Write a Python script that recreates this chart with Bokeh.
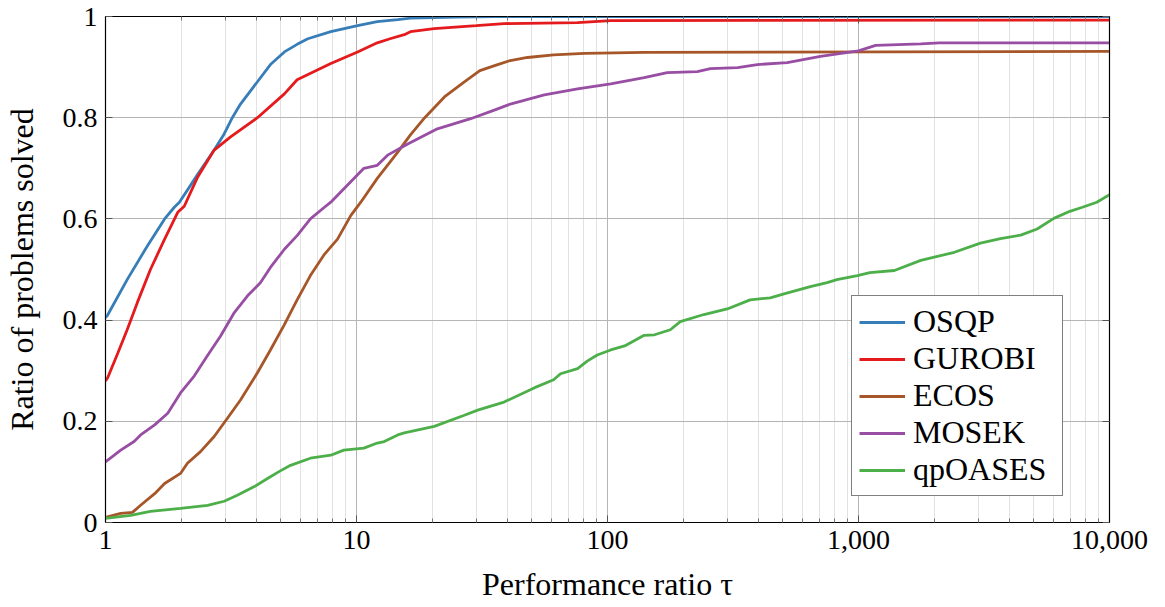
from bokeh.plotting import figure
from bokeh.models import Range1d, FixedTicker, LogAxis, LinearAxis, Legend, LegendItem
from bokeh.embed import file_html
from bokeh.resources import INLINE

# ---- data ----
osqp_tau = [1, 1.02, 1.22, 1.47, 1.72, 1.88, 1.97, 2.33, 2.71, 2.97, 3.2, 3.45, 4.03, 4.54, 5.16, 5.8, 6.4, 7.9, 10.1, 12.1, 14.6, 16.4, 25, 36, 10000]
osqp_val = [0.405, 0.41, 0.48, 0.547, 0.60, 0.623, 0.633, 0.688, 0.736, 0.768, 0.80, 0.827, 0.871, 0.905, 0.93, 0.945, 0.956, 0.97, 0.982, 0.99, 0.994, 0.997, 0.999, 1.0, 1.0]

gurobi_tau = [1, 1.02, 1.12, 1.22, 1.34, 1.51, 1.72, 1.94, 2.06, 2.33, 2.71, 3.15, 4.03, 5.16, 5.8, 7.9, 10.1, 12.1, 13.6, 15.5, 16.4, 20.4, 30, 38.7, 76, 103, 10000]
gurobi_val = [0.28, 0.286, 0.335, 0.381, 0.435, 0.50, 0.56, 0.613, 0.625, 0.683, 0.736, 0.762, 0.80, 0.847, 0.875, 0.907, 0.93, 0.948, 0.956, 0.964, 0.97, 0.976, 0.982, 0.986, 0.988, 0.992, 0.993]

ecos_tau = [1, 1.15, 1.28, 1.38, 1.57, 1.72, 1.99, 2.12, 2.39, 2.71, 3.06, 3.45, 4.03, 4.54, 5.16, 5.8, 6.55, 7.45, 8.4, 9.5, 10.4, 12.1, 14.6, 16.4, 18.7, 22.4, 26.9, 31, 36.5, 41, 48, 61, 81, 140, 10000]
ecos_val = [0.01, 0.018, 0.02, 0.034, 0.057, 0.077, 0.097, 0.117, 0.14, 0.17, 0.206, 0.242, 0.296, 0.341, 0.391, 0.44, 0.488, 0.53, 0.56, 0.607, 0.633, 0.68, 0.732, 0.766, 0.80, 0.841, 0.871, 0.893, 0.905, 0.913, 0.919, 0.924, 0.927, 0.929, 0.931]

mosek_tau = [1, 1.15, 1.30, 1.38, 1.57, 1.77, 1.99, 2.26, 2.55, 2.87, 3.26, 3.68, 4.14, 4.54, 5.16, 5.8, 6.55, 7.45, 7.9, 10.7, 12.1, 13.3, 16, 21, 28.5, 35.4, 41, 56, 76, 103, 140, 173, 228, 257, 330, 395, 520, 705, 1000, 1170, 1770, 2100, 10000]
mosek_val = [0.12, 0.143, 0.16, 0.173, 0.193, 0.216, 0.256, 0.29, 0.33, 0.368, 0.415, 0.448, 0.474, 0.504, 0.54, 0.567, 0.60, 0.623, 0.633, 0.70, 0.706, 0.726, 0.748, 0.778, 0.798, 0.815, 0.827, 0.845, 0.857, 0.867, 0.879, 0.889, 0.891, 0.897, 0.899, 0.905, 0.909, 0.921, 0.932, 0.943, 0.946, 0.948, 0.948]

qpoases_tau = [1, 1.26, 1.51, 1.99, 2.55, 2.97, 3.35, 3.92, 4.42, 4.93, 5.46, 6.55, 7.9, 8.9, 10.7, 12.1, 12.9, 14.6, 15.5, 20.4, 26.9, 30.4, 38.7, 51, 61, 65, 76, 83, 91, 103, 117, 140, 154, 178, 195, 242, 300, 370, 445, 505, 643, 750, 820, 990, 1110, 1390, 1770, 2410, 3060, 3680, 4430, 5150, 6000, 6950, 7800, 8900, 10000]
qpoases_val = [0.008, 0.014, 0.022, 0.028, 0.034, 0.042, 0.054, 0.071, 0.087, 0.101, 0.113, 0.127, 0.133, 0.143, 0.147, 0.157, 0.16, 0.173, 0.177, 0.19, 0.212, 0.222, 0.238, 0.266, 0.282, 0.294, 0.304, 0.319, 0.331, 0.341, 0.349, 0.37, 0.371, 0.381, 0.397, 0.411, 0.422, 0.44, 0.444, 0.452, 0.466, 0.474, 0.48, 0.488, 0.494, 0.498, 0.518, 0.534, 0.552, 0.561, 0.568, 0.58, 0.601, 0.615, 0.623, 0.633, 0.648]

solver_names = ["OSQP", "GUROBI", "ECOS", "MOSEK", "qpOASES"]
solver_colors = ["#377eb8", "#e41a1c", "#a65628", "#984ea3", "#4daf4a"]

x_ticks = [1, 10, 100, 1000, 10000]
x_tick_labels = ["1", "10", "100", "1,000", "10,000"]
y_ticks = [0, 0.2, 0.4, 0.6, 0.8, 1.0]
y_tick_labels = ["0", "0.2", "0.4", "0.6", "0.8", "1"]

FONT = "Liberation Serif"

x_minor = [m * d for d in x_ticks[:-1] for m in range(2, 10)]

p = figure(width=1149, height=604, x_axis_type="log",
           x_range=Range1d(1, 10000), y_range=Range1d(0, 1),
           output_backend="svg", toolbar_location=None,
           min_border_left=101, min_border_right=40,
           min_border_top=16, min_border_bottom=82)
p.background_fill_color = "white"
p.border_fill_color = "white"
p.outline_line_color = "black"
p.outline_line_width = 1.2

xticker = FixedTicker(ticks=x_ticks, minor_ticks=x_minor)
yticker = FixedTicker(ticks=y_ticks, minor_ticks=[])

xa = p.xaxis[0]
xa.ticker = xticker
xa.major_label_overrides = {t: l for t, l in zip(x_ticks, x_tick_labels)}
ya = p.yaxis[0]
ya.ticker = yticker
ya.major_label_overrides = {t: l for t, l in zip(y_ticks, y_tick_labels)}

for ax in (xa, ya):
    ax.major_tick_in = 7
    ax.major_tick_out = 0
    ax.minor_tick_in = 4
    ax.minor_tick_out = 0
    ax.major_label_text_font = FONT
    ax.major_label_text_font_size = "28px"
    ax.major_label_text_color = "black"
    ax.axis_label_text_font = FONT
    ax.axis_label_text_font_size = "32px"
    ax.axis_label_text_font_style = "normal"
    ax.axis_label_text_color = "black"
    ax.axis_line_color = "black"
    ax.major_tick_line_color = "#555555"
    ax.minor_tick_line_color = "#777777"
    ax.major_label_standoff = 8
ya.minor_tick_line_color = None
xa.axis_label = "Performance ratio τ"
ya.axis_label = "Ratio of problems solved"
xa.axis_label_standoff = 14
ya.axis_label_standoff = 20

# mirror ticks on top and right (labels invisible)
top = LogAxis(ticker=xticker, major_label_text_font_size="1px", major_label_text_alpha=0,
              major_tick_in=7, major_tick_out=0, minor_tick_in=4, minor_tick_out=0,
              major_tick_line_color="#555555", minor_tick_line_color="#777777",
              major_label_standoff=0, axis_line_color="black")
right = LinearAxis(ticker=yticker, major_label_text_font_size="1px", major_label_text_alpha=0,
                   major_tick_in=7, major_tick_out=0, minor_tick_line_color=None,
                   major_tick_line_color="#555555", major_label_standoff=0,
                   axis_line_color="black")
p.add_layout(top, "above")
p.add_layout(right, "right")

p.xgrid.grid_line_color = "#b5b5b5"
p.xgrid.minor_grid_line_color = "#e2e2e2"
p.ygrid.grid_line_color = "#b5b5b5"

series = [(osqp_tau, osqp_val), (gurobi_tau, gurobi_val), (ecos_tau, ecos_val),
          (mosek_tau, mosek_val), (qpoases_tau, qpoases_val)]
items = []
for (tx, vy), name, col in zip(series, solver_names, solver_colors):
    r = p.line(tx, vy, line_color=col, line_width=2.8)
    items.append(LegendItem(label=name, renderers=[r]))

legend = Legend(items=items, location=(746, 26))
legend.margin = 0
legend.padding = 7
legend.spacing = 0
legend.glyph_width = 46
legend.glyph_height = 36
legend.label_height = 36
legend.label_width = 142
legend.label_standoff = 8
legend.label_text_font = FONT
legend.label_text_font_size = "32px"
legend.label_text_color = "black"
legend.border_line_color = "black"
legend.border_line_width = 1.2
legend.background_fill_color = "white"
legend.background_fill_alpha = 1
p.add_layout(legend)

open("out.html", "w").write(file_html(p, INLINE))
